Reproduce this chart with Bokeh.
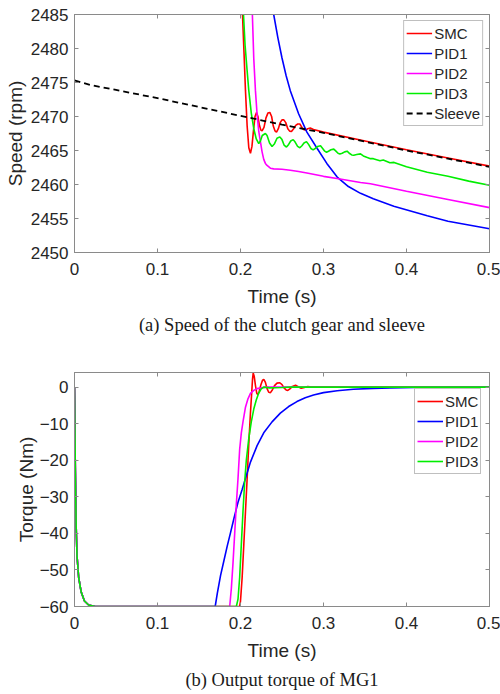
from bokeh.plotting import figure
from bokeh.models import LinearAxis, FixedTicker, Legend, LegendItem, Title, Range1d
from bokeh.layouts import column
from bokeh.embed import file_html
from bokeh.resources import INLINE

# ---------------- data ----------------
x_ticks = [0, 0.1, 0.2, 0.3, 0.4, 0.5]
x_tick_labels = ["0", "0.1", "0.2", "0.3", "0.4", "0.5"]
speed_ticks = [2450, 2455, 2460, 2465, 2470, 2475, 2480, 2485]
torque_ticks = [-60, -50, -40, -30, -20, -10, 0]

# (a) speed of clutch gear and sleeve (rpm)
t_smc_a = [0.2008, 0.2024, 0.2042, 0.2060, 0.2080, 0.2100, 0.2120, 0.2138, 0.2156, 0.2175,
           0.2193, 0.2210, 0.2228, 0.2245, 0.2260, 0.2283, 0.2307, 0.2330, 0.2353, 0.2375,
           0.2395, 0.2415, 0.2434, 0.2456, 0.2478, 0.2500, 0.2522, 0.2545, 0.2570, 0.2592,
           0.2614, 0.2640, 0.2665, 0.2690, 0.2715, 0.2740, 0.2760, 0.2783, 0.2810, 0.2840,
           0.2880, 0.3000, 0.3500, 0.4000, 0.4500, 0.5000]
v_smc_a = [2490, 2485, 2479.5, 2473.8, 2468.6, 2465.4, 2464.6, 2465.6, 2467.9, 2470.0,
           2470.6, 2470.0, 2468.7, 2468.0, 2467.9, 2468.4, 2469.8, 2470.5, 2470.6, 2470.0,
           2468.6, 2467.9, 2467.7, 2468.2, 2469.1, 2469.5, 2469.5, 2469.1, 2468.2, 2467.85,
           2467.8, 2468.2, 2468.7, 2468.9, 2468.9, 2468.4, 2468.1, 2468.0, 2468.2, 2468.3,
           2468.1, 2467.7, 2466.4, 2465.1, 2463.9, 2462.7]

t_pid1_a = [0.2385, 0.2400, 0.2450, 0.2500, 0.2550, 0.2600, 0.2700, 0.2800, 0.2924, 0.3040,
            0.3165, 0.3300, 0.3446, 0.3600, 0.3847, 0.4250, 0.4500, 0.5000]
v_pid1_a = [2490, 2485, 2481.6, 2478.6, 2476.0, 2473.8, 2470.4, 2467.7, 2465.3, 2463.1,
            2461.1, 2459.7, 2458.7, 2457.9, 2456.8, 2455.4, 2454.6, 2453.5]

t_pid2_a = [0.2130, 0.2143, 0.2160, 0.2180, 0.2200, 0.2220, 0.2240, 0.2260, 0.2280, 0.2300,
            0.2320, 0.2360, 0.2400, 0.2500, 0.2600, 0.2700, 0.2800, 0.3000, 0.3200, 0.3446,
            0.3566, 0.4000, 0.4500, 0.5000]
v_pid2_a = [2490, 2485, 2478.5, 2473.8, 2470.3, 2467.8, 2466.3, 2464.8, 2463.7, 2463.1,
            2462.8, 2462.4, 2462.3, 2462.25, 2462.1, 2461.9, 2461.7, 2461.2, 2460.8, 2460.3,
            2460.1, 2459.0, 2457.8, 2456.6]

t_pid3_a = [0.2020, 0.2036, 0.2055, 0.2078, 0.2100, 0.2130, 0.2160, 0.2190, 0.2220, 0.2240,
            0.2262, 0.2300, 0.2320, 0.2350, 0.2380, 0.2410, 0.2440, 0.2474, 0.2500, 0.2525,
            0.2554, 0.2580, 0.2605, 0.2635, 0.2660, 0.2688, 0.2715, 0.2740, 0.2765, 0.2795,
            0.2820, 0.2848, 0.2875, 0.2900, 0.2930, 0.2964, 0.2990, 0.3015, 0.3036, 0.3060,
            0.3090, 0.3124, 0.3150, 0.3175, 0.3197, 0.3225, 0.3255, 0.3285, 0.3310, 0.3340,
            0.3365, 0.3400, 0.3446, 0.3480, 0.3520, 0.3566, 0.3600, 0.3680, 0.3720, 0.3800,
            0.3850, 0.4000, 0.4250, 0.4500, 0.4750, 0.5000]
v_pid3_a = [2490, 2485, 2480.5, 2477.0, 2473.8, 2470.5, 2468.2, 2466.7, 2466.0, 2466.4,
            2467.2, 2467.5, 2467.2, 2466.1, 2465.6, 2466.0, 2466.8, 2467.0, 2466.6, 2465.8,
            2465.5, 2465.9, 2466.4, 2466.6, 2466.2, 2465.6, 2465.4, 2465.7, 2466.1, 2466.3,
            2465.9, 2465.3, 2465.1, 2465.3, 2465.6, 2465.7, 2465.3, 2464.9, 2464.75, 2464.9,
            2465.1, 2465.2, 2464.9, 2464.6, 2464.5, 2464.6, 2464.8, 2464.9, 2464.6, 2464.35,
            2464.3, 2464.4, 2464.5, 2464.2, 2464.0, 2463.8, 2463.8, 2463.5, 2463.6, 2463.2,
            2463.25, 2462.6, 2461.8, 2461.2, 2460.5, 2459.9]

t_sleeve = [0.0, 0.02, 0.05, 0.10, 0.15, 0.20, 0.25, 0.30, 0.35, 0.40, 0.45, 0.50]
v_sleeve = [2475.3, 2474.6, 2473.9, 2472.7, 2471.4, 2470.1, 2468.8, 2467.6, 2466.3, 2465.0,
            2463.8, 2462.6]

# (b) output torque of MG1 (Nm)
t_start_b = [0.0, 0.001, 0.002, 0.003, 0.005, 0.008, 0.012, 0.017, 0.025]
v_start_b = [0.0, -22, -38, -46, -52, -56, -58.5, -59.6, -60]

t_smc_b = [0.1990, 0.2000, 0.2020, 0.2040, 0.2060, 0.2080, 0.2100, 0.2120, 0.2135, 0.2145,
           0.2153, 0.2165, 0.2180, 0.2195, 0.2209, 0.2225, 0.2245, 0.2265, 0.2281, 0.2300,
           0.2320, 0.2340, 0.2361, 0.2385, 0.2410, 0.2440, 0.2474, 0.2500, 0.2525, 0.2550,
           0.2570, 0.2595, 0.2625, 0.2663, 0.2695, 0.2731, 0.2770, 0.2810, 0.2860, 0.3000,
           0.5000]
v_smc_b = [-60, -58.5, -52, -43, -34, -25, -15.5, -7, -1.5, 2.2,
           3.85, 3.0, 0.5, -1.6, -2.1, -1.2, 0.6, 1.9, 2.1, 1.3,
           -0.4, -1.4, -1.5, -0.7, 0.4, 1.1, 1.2, 0.7, -0.2, -0.8,
           -0.9, -0.5, 0.2, 0.5, 0.1, -0.3, -0.1, 0.15, 0.0, 0.0,
           0.0]

t_pid1_b = [0.1695, 0.172, 0.176, 0.180, 0.184, 0.188, 0.192, 0.197, 0.202, 0.206,
            0.212, 0.220, 0.228, 0.238, 0.248, 0.258, 0.268, 0.278, 0.288, 0.300,
            0.3165, 0.336, 0.360, 0.380, 0.410, 0.450, 0.500]
v_pid1_b = [-60, -56.5, -51.5, -47.5, -43.5, -39.8, -36, -31.5, -28, -25,
            -20.5, -16, -12.5, -9.5, -7.1, -5.3, -3.95, -2.9, -2.15, -1.5,
            -1.0, -0.6, -0.35, -0.2, -0.08, 0.0, 0.0]

t_pid2_b = [0.187, 0.189, 0.191, 0.193, 0.195, 0.197, 0.199, 0.201, 0.203, 0.206,
            0.209, 0.212, 0.216, 0.220, 0.230, 0.500]
v_pid2_b = [-60, -55, -48, -40, -32, -25, -17, -12.5, -9.5, -5.5,
            -3.2, -1.7, -0.9, -0.4, 0.0, 0.0]

t_pid3_b = [0.195, 0.197, 0.199, 0.201, 0.203, 0.205, 0.207, 0.210, 0.213, 0.216,
            0.219, 0.222, 0.225, 0.228, 0.235, 0.250, 0.260, 0.500]
v_pid3_b = [-60, -58, -52, -43, -34, -26, -20, -14, -9.5, -6,
            -3.5, -1.6, -0.5, 0.0, -0.2, -0.1, 0.0, 0.0]

names_a = ["SMC", "PID1", "PID2", "PID3", "Sleeve"]
names_b = ["SMC", "PID1", "PID2", "PID3"]
colors = ["#ff0000", "#0000ff", "#ff00ff", "#00ee00", "#000000"]

# ---------------- styling ----------------
SANS = "Liberation Sans"
SERIF = "Liberation Serif"
AX = "#8a8a8a"
TXT = "#262626"


def make_fig(height, yr, yticks, ylabel, caption, min_top, min_bottom, cap_standoff,
             ylabel_standoff):
    p = figure(width=500, height=height, x_range=Range1d(0, 0.5), y_range=Range1d(*yr),
               output_backend="svg", toolbar_location=None,
               min_border_left=74, min_border_right=11,
               min_border_top=min_top, min_border_bottom=min_bottom)
    p.xgrid.visible = False
    p.ygrid.visible = False
    p.outline_line_color = AX
    p.outline_line_width = 1
    for ax in p.xaxis:
        ax.ticker = FixedTicker(ticks=x_ticks)
        ax.major_label_overrides = dict(zip(x_ticks, x_tick_labels))
        ax.major_label_standoff = 10
        ax.axis_label_standoff = 8
    for ax in p.yaxis:
        ax.ticker = FixedTicker(ticks=yticks)
        ax.major_label_standoff = 6
        ax.axis_label_standoff = ylabel_standoff
    for ax in list(p.xaxis) + list(p.yaxis):
        ax.axis_line_color = AX
        ax.major_tick_line_color = AX
        ax.major_tick_in = 4
        ax.major_tick_out = 0
        ax.minor_tick_line_color = None
        ax.major_label_text_font = SANS
        ax.major_label_text_font_size = "17px"
        ax.major_label_text_color = TXT
        ax.axis_label_text_font = SANS
        ax.axis_label_text_font_size = "19px"
        ax.axis_label_text_font_style = "normal"
        ax.axis_label_text_color = TXT
    p.xaxis.axis_label = "Time (s)"
    p.yaxis.axis_label = ylabel

    # box ticks on top and right (no labels)
    top = LinearAxis(ticker=FixedTicker(ticks=x_ticks), major_label_text_font_size="1px",
                     major_label_text_color=None,
                     major_label_standoff=0, major_tick_in=4, major_tick_out=0,
                     minor_tick_line_color=None, axis_line_color=AX, major_tick_line_color=AX)
    right = LinearAxis(ticker=FixedTicker(ticks=yticks), major_label_text_font_size="1px",
                       major_label_text_color=None,
                       major_label_standoff=0, major_tick_in=4, major_tick_out=0,
                       minor_tick_line_color=None, axis_line_color=AX, major_tick_line_color=AX)
    p.add_layout(top, "above")
    p.add_layout(right, "right")

    cap = Title(text=caption, align="center", text_font=SERIF, text_font_size="18.5px",
                text_font_style="normal", text_color="#1a1a1a", standoff=cap_standoff)
    p.add_layout(cap, "below")
    return p


def make_legend(p, items, location):
    lg = Legend(items=items, location=location, border_line_color="#808080",
                border_line_width=1, background_fill_color="white", background_fill_alpha=1,
                label_text_font=SANS, label_text_font_size="15px", label_text_color=TXT,
                glyph_width=26, glyph_height=20, label_height=20, label_standoff=2,
                spacing=0, padding=2, margin=6)
    p.add_layout(lg)


# ---------------- (a) speed ----------------
# frame: top 14, height 238 -> bottom 252
p1 = make_fig(345, (2450, 2485), speed_ticks, "Speed (rpm)",
              "(a) Speed of the clutch gear and sleeve", 14, 93, 6, 2)
data_a = [(t_smc_a, v_smc_a), (t_pid1_a, v_pid1_a), (t_pid2_a, v_pid2_a),
          (t_pid3_a, v_pid3_a), (t_sleeve, v_sleeve)]
items_a = []
for (tt, vv), name, col in zip(data_a, names_a, colors):
    if name == "Sleeve":
        r = p1.line(tt, vv, line_color=col, line_width=1.8, line_dash="6 4")
    else:
        r = p1.line(tt, vv, line_color=col, line_width=1.6)
    items_a.append(LegendItem(label=name, renderers=[r]))
make_legend(p1, items_a, "top_right")

# ---------------- (b) torque ----------------
# frame: top 372 (27 below the start of this figure), height 237
p2 = make_fig(348, (-60, 4), torque_ticks, "Torque (Nm)",
              "(b) Output torque of MG1", 27, 84, 8, 0)
data_b = [(t_smc_b, v_smc_b), (t_pid1_b, v_pid1_b), (t_pid2_b, v_pid2_b), (t_pid3_b, v_pid3_b)]
items_b = []
for (tt, vv), name, col in zip(data_b, names_b, colors):
    r = p2.line(t_start_b + tt, v_start_b + vv, line_color=col, line_width=1.6)
    items_b.append(LegendItem(label=name, renderers=[r]))
make_legend(p2, items_b, (340, 132))

layout = column(p1, p2, spacing=0)
open("out.html", "w").write(file_html(layout, INLINE))
